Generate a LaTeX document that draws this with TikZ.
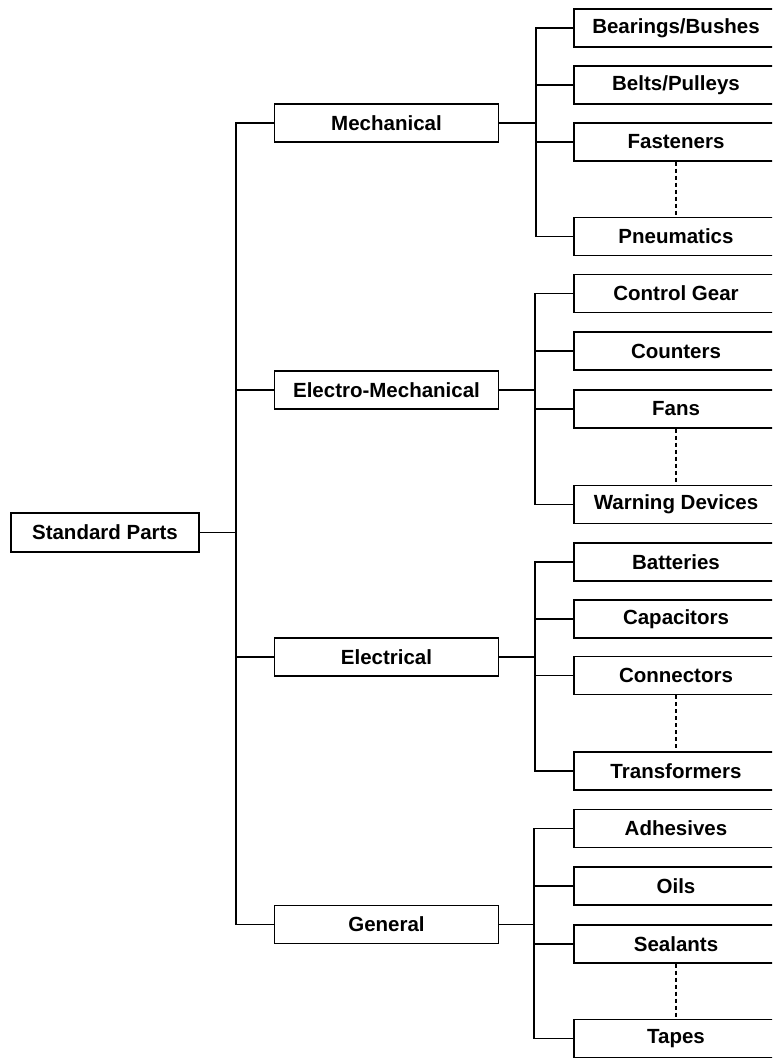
\documentclass[tikz,border=0pt]{standalone}
\usepackage{fontspec}
\setmainfont{Liberation Sans}
\begin{document}
\begin{tikzpicture}[x=1pt,y=-1pt,
  box/.style={draw, line width=1.3pt, minimum height=38pt, inner sep=0pt, font=\fontsize{20.5}{24}\selectfont\bfseries},
  rootbox/.style={box, minimum width=188pt, minimum height=39pt},
  catbox/.style={box, minimum width=224pt},
  leafbox/.style={box, minimum width=204pt},
  link/.style={line width=1.2pt},
  gap/.style={line width=1.1pt, dash pattern=on 4pt off 3pt}]
\useasboundingbox (0,0) rectangle (772,1058);
\clip (0,0) rectangle (772,1058);
\fill[white] (0,0) rectangle (772,1058);

% root
\node[rootbox] (root) at (105,532.5) {Standard Parts};
\coordinate (rj) at (236,532.5);

% categories
\node[catbox] (mech) at (386.5,123) {Mechanical};
\node[catbox] (emech) at (386.5,390) {Electro-Mechanical};
\node[catbox] (elec) at (386.5,657) {Electrical};
\node[catbox] (gen) at (386.5,924.5) {General};

\draw[link] (root.east) -- (rj);
\draw[link] (mech.west) -| (rj);
\draw[link] (emech.west) -| (rj);
\draw[link] (elec.west) -| (rj);
\draw[link] (gen.west) -| (rj);

% Mechanical leaves
\node[leafbox] (bear) at (676,28) {Bearings/Bushes};
\node[leafbox] (belt) at (676,85) {Belts/Pulleys};
\node[leafbox] (fast) at (676,142) {Fasteners};
\node[leafbox] (pneu) at (676,236.5) {Pneumatics};
\coordinate (mj) at (536,123);
\draw[link] (mech.east) -- (mj);
\foreach \n in {bear,belt,fast,pneu} \draw[link] (\n.west) -| (mj);
\draw[gap] (fast.south) -- (pneu.north);

% Electro-Mechanical leaves
\node[leafbox] (ctrl) at (676,293.5) {Control Gear};
\node[leafbox] (count) at (676,351) {Counters};
\node[leafbox] (fans) at (676,409) {Fans};
\node[leafbox] (warn) at (676,504.5) {Warning Devices};
\coordinate (ej) at (535,390);
\draw[link] (emech.east) -- (ej);
\foreach \n in {ctrl,count,fans,warn} \draw[link] (\n.west) -| (ej);
\draw[gap] (fans.south) -- (warn.north);

% Electrical leaves
\node[leafbox] (batt) at (676,562) {Batteries};
\node[leafbox] (capa) at (676,619) {Capacitors};
\node[leafbox] (conn) at (676,675.5) {Connectors};
\node[leafbox] (trans) at (676,771) {Transformers};
\coordinate (lj) at (535,657);
\draw[link] (elec.east) -- (lj);
\foreach \n in {batt,capa,conn,trans} \draw[link] (\n.west) -| (lj);
\draw[gap] (conn.south) -- (trans.north);

% General leaves
\node[leafbox] (adh) at (676,828.5) {Adhesives};
\node[leafbox] (oils) at (676,886) {Oils};
\node[leafbox] (seal) at (676,944) {Sealants};
\node[leafbox] (tape) at (676,1038.5) {Tapes};
\coordinate (gj) at (534,924.5);
\draw[link] (gen.east) -- (gj);
\foreach \n in {adh,oils,seal,tape} \draw[link] (\n.west) -| (gj);
\draw[gap] (seal.south) -- (tape.north);
\end{tikzpicture}
\end{document}
